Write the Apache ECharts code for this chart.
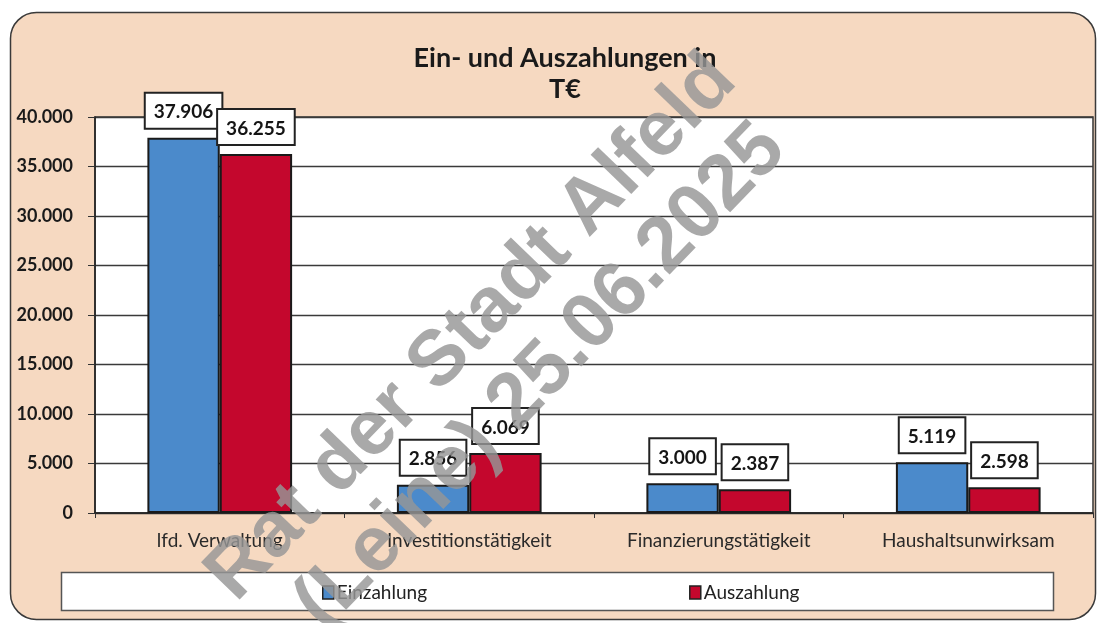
<!DOCTYPE html>
<html>
<head>
<meta charset="utf-8">
<script src="https://cdn.jsdelivr.net/npm/echarts@6/dist/echarts.min.js"></script>
<style>
  html, body { margin: 0; padding: 0; background: #fff; }
  #chart { width: 1097px; height: 623px; }
</style>
</head>
<body>
<div id="chart"></div>
<script>
// Kategorien und Werte (in T€)
const categories = ['lfd. Verwaltung', 'Investitionstätigkeit', 'Finanzierungstätigkeit', 'Haushaltsunwirksam'];
const einzahlung = [37906, 2856, 3000, 5119];
const auszahlung = [36255, 6069, 2387, 2598];
const seriesNames = ['Einzahlung', 'Auszahlung'];
const yTicks = { min: 0, max: 40000, interval: 5000 };
const titleLines = ['Ein- und Auszahlungen in', 'T€'];
const watermarkLines = ['Rat der Stadt Alfeld', '(Leine) 25.06.2025'];

// Tausendertrennzeichen nach deutscher Schreibweise
function fmtDe(v) {
  return String(Math.round(v)).replace(/\B(?=(\d{3})+(?!\d))/g, '.');
}

const FONT = 'Lato, "Open Sans", sans-serif';
const BLUE = '#4b8acb';
const RED = '#c4072d';

const labelStyle = {
  show: true,
  position: 'top',
  distance: 10,
  formatter: p => fmtDe(p.value),
  fontFamily: FONT,
  fontWeight: 'bold',
  fontSize: 19,
  color: '#151515',
  backgroundColor: '#ffffff',
  borderColor: '#222',
  borderWidth: 2,
  padding: [9, 8, 6, 8]
};

const chart = echarts.init(document.getElementById('chart'), null, { renderer: 'canvas' });

const angle = 46 * Math.PI / 180;
const wmFont = 'bold 78px "Liberation Sans", Arial, sans-serif';
const wmFill = 'rgba(150,150,150,0.82)';

chart.setOption({
  backgroundColor: '#ffffff',
  animation: false,
  textStyle: { fontFamily: FONT },
  title: {
    text: titleLines.join('\n'),
    left: 560,
    top: 38,
    textAlign: 'center',
    textStyle: {
      fontFamily: FONT,
      fontWeight: 'bold',
      fontSize: 27,
      lineHeight: 31,
      color: '#1a1a1a'
    }
  },
  graphic: [
    {
      // Hintergrundfläche mit abgerundeten Ecken
      type: 'rect',
      z: -10,
      silent: true,
      shape: { x: 10.5, y: 12.5, width: 1085, height: 607, r: 26 },
      style: { fill: '#f6d9c1', stroke: '#3a3a3a', lineWidth: 1.5 }
    },
    {
      // Rahmen der Legende
      type: 'rect',
      z: -5,
      silent: true,
      shape: { x: 61.5, y: 572.5, width: 992, height: 38 },
      style: { fill: '#ffffff', stroke: '#555', lineWidth: 1.5 }
    },
    {
      type: 'text',
      z: 100,
      silent: true,
      x: 472, y: 328,
      rotation: angle,
      style: {
        text: watermarkLines[0],
        align: 'center',
        verticalAlign: 'middle',
        font: wmFont,
        fill: wmFill
      }
    },
    {
      type: 'text',
      z: 100,
      silent: true,
      x: 541, y: 377,
      rotation: angle,
      style: {
        text: watermarkLines[1],
        align: 'center',
        verticalAlign: 'middle',
        font: wmFont,
        fill: wmFill
      }
    }
  ],
  legend: {
    data: seriesNames,
    left: 317,
    top: 578,
    itemGap: 262,
    itemWidth: 11,
    itemHeight: 13,
    icon: 'rect',
    textStyle: { fontFamily: FONT, fontSize: 19, color: '#222', padding: [0, 0, 0, -2] },
    itemStyle: { borderColor: '#222', borderWidth: 1.5 }
  },
  grid: {
    left: 95,
    top: 117,
    right: 4,
    bottom: 110,
    show: true,
    backgroundColor: '#ffffff',
    borderColor: '#333',
    borderWidth: 1.5
  },
  xAxis: {
    type: 'category',
    data: categories,
    axisLine: { show: true, lineStyle: { color: '#222', width: 1.5 } },
    axisTick: { show: true, length: 5, lineStyle: { color: '#333' } },
    axisLabel: {
      margin: 18,
      fontFamily: FONT,
      fontSize: 19,
      color: '#2a2a2a',
      interval: 0
    }
  },
  yAxis: {
    type: 'value',
    min: yTicks.min,
    max: yTicks.max,
    interval: yTicks.interval,
    axisLine: { show: true, lineStyle: { color: '#222', width: 1.5 } },
    axisTick: { show: true, length: 7, lineStyle: { color: '#333' } },
    axisLabel: {
      margin: 22,
      formatter: v => fmtDe(v),
      fontFamily: FONT,
      fontWeight: 'bold',
      fontSize: 18,
      color: '#1a1a1a'
    },
    splitLine: { show: true, lineStyle: { color: '#3a3a3a', width: 1.3 } }
  },
  series: [
    {
      name: seriesNames[0],
      type: 'bar',
      data: einzahlung,
      barGap: '0%',
      barCategoryGap: '42%',
      itemStyle: { color: BLUE, borderColor: '#1a1a1a', borderWidth: 2 },
      label: labelStyle
    },
    {
      name: seriesNames[1],
      type: 'bar',
      data: auszahlung,
      barGap: '0%',
      barCategoryGap: '42%',
      itemStyle: { color: RED, borderColor: '#1a1a1a', borderWidth: 2 },
      label: labelStyle
    }
  ]
});
</script>
</body>
</html>
